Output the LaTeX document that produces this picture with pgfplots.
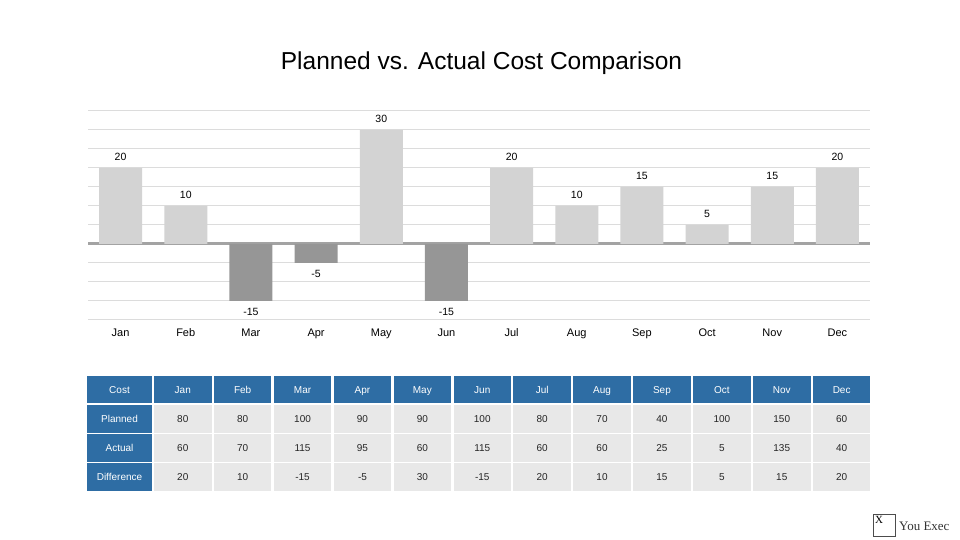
\documentclass[border=0pt]{standalone}
\usepackage{pgfplots}
\pgfplotsset{compat=1.18}
\usepackage{fontspec}
\setmainfont{Liberation Sans}
\newfontfamily\serif{Liberation Serif}

\definecolor{posbar}{HTML}{D3D3D3}
\definecolor{negbar}{HTML}{969696}
\definecolor{gridc}{HTML}{DCDCDC}
\definecolor{zeroc}{HTML}{A3A3A3}
\definecolor{hdr}{HTML}{2E6DA4}
\definecolor{cellc}{HTML}{E8E8E8}

\begin{document}
\begin{tikzpicture}[x=1bp,y=1bp]
\path[use as bounding box] (0,0) rectangle (960,540);

% title
\node[font=\fontsize{24.5bp}{28bp}\selectfont] at (481.5,477) {Planned vs. Actual Cost Comparison};

\begin{axis}[
    at={(88bp,220bp)}, anchor=south west,
    width=782bp, height=209bp, scale only axis,
    xmin=-0.5, xmax=11.5,
    ymin=-20, ymax=35,
    ytick={-20,-15,...,35}, yticklabels={},
    xtick={0,...,11},
    xticklabels={Jan,Feb,Mar,Apr,May,Jun,Jul,Aug,Sep,Oct,Nov,Dec},
    xticklabel style={font=\fontsize{11bp}{13bp}\selectfont, yshift=-5bp},
    ymajorgrids, grid style={gridc, line width=1bp},
    extra y ticks={0}, extra y tick labels={},
    extra y tick style={grid style={zeroc, line width=3bp}},
    axis line style={draw=none}, tick style={draw=none},
    major tick length=0pt,
    ybar, bar width=43bp, bar shift=0pt,
    clip=false,
    nodes near coords, nodes near coords align=vertical,
    /pgf/number format/assume math mode=true,
    every node near coord/.append style={font=\fontsize{10.5bp}{12bp}\selectfont, text=black, inner sep=7bp},
]
\addplot[fill=posbar, draw=none] coordinates {
    (0,20) (1,10) (4,30) (6,20) (7,10) (8,15) (9,5) (10,15) (11,20)
};
\addplot[fill=negbar, draw=none] coordinates {
    (2,-15) (3,-5) (5,-15)
};
\end{axis}

% table
\def\tfont{\fontsize{10bp}{12bp}\selectfont}
\tikzset{tc/.style={font=\tfont, text height=7.2bp, text depth=0pt, inner sep=0pt}}
\fill[hdr] (87,137) rectangle ++(65,27);
\node[tc, text=white] at (119.5,150.5) {Cost};
\foreach \m [count=\i from 0] in {Jan,Feb,Mar,Apr,May,Jun,Jul,Aug,Sep,Oct,Nov,Dec} {
    \pgfmathsetmacro\xl{154+59.9*\i}
    \fill[hdr] (\xl,137) rectangle ++(57.5,27);
    \node[tc, text=white] at (\xl+28.75,150.5) {\m};
}
\foreach \name/\vals/\yb in {
    Planned/{80,80,100,90,90,100,80,70,40,100,150,60}/107,
    Actual/{60,70,115,95,60,115,60,60,25,5,135,40}/78,
    Difference/{20,10,-15,-5,30,-15,20,10,15,5,15,20}/49} {
    \fill[hdr] (87,\yb) rectangle ++(65,27.5);
    \node[tc, text=white] at (119.5,\yb+13.75) {\name};
    \foreach \v [count=\j from 0] in \vals {
        \pgfmathsetmacro\xl{154+59.9*\j}
        \fill[cellc] (\xl,\yb) rectangle ++(57.5,27.5);
        \node[tc, text=black!85] at (\xl+28.75,\yb+13.75) {\v};
    }
}

% logo
\draw[black!70, line width=0.8bp] (873,4) rectangle (895,26);
\node[font=\serif\fontsize{11bp}{12bp}\selectfont, anchor=north west, inner sep=1bp] at (874,25) {X};
\node[font=\serif\fontsize{13bp}{14bp}\selectfont, anchor=west, inner sep=0pt, text=black!80] at (899,14) {You Exec};
\end{tikzpicture}
\end{document}
